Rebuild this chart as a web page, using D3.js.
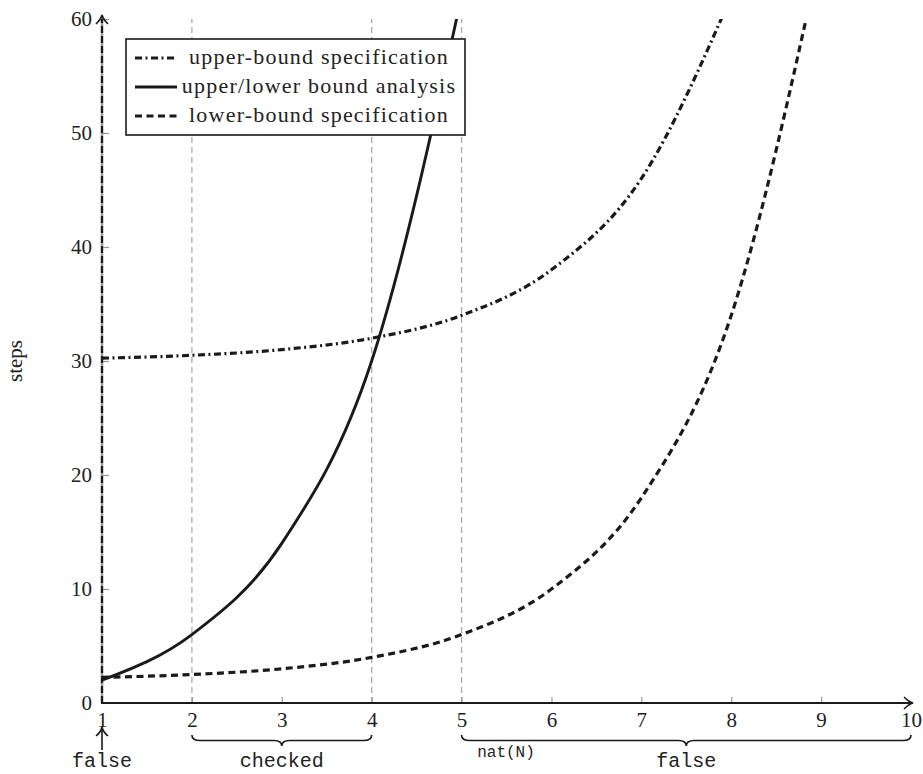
<!DOCTYPE html>
<html>
<head>
<meta charset="utf-8">
<script src="https://cdn.jsdelivr.net/npm/d3@7/dist/d3.min.js"></script>
<style>
  html, body { margin: 0; padding: 0; background: #fff; }
  svg { display: block; }
</style>
</head>
<body>
<svg id="chart" width="923" height="774"></svg>
<script>
// ---- data ----
const xTicks = [1, 2, 3, 4, 5, 6, 7, 8, 9, 10];
const yTicks = [0, 10, 20, 30, 40, 50, 60];
const upperSpecX = [1, 2, 3, 4, 5, 6, 7, 8];
const upperSpecY = [30.25, 30.5, 31, 32, 34, 38, 46, 62];
const analysisX = [1, 2, 3, 4, 5];
const analysisY = [2, 6, 14, 30, 62];
const lowerSpecX = [1, 2, 3, 4, 5, 6, 7, 8, 9];
const lowerSpecY = [2.25, 2.5, 3, 4, 6, 10, 18, 34, 66];
const gridX = [2, 4, 5];
const legendLabels = ["upper-bound specification", "upper/lower bound analysis", "lower-bound specification"];
const braces = [
  { from: 2, to: 4, label: "checked" },
  { from: 5, to: 10, label: "false" }
];

// ---- layout ----
const svg = d3.select("#chart");
const x = d3.scaleLinear().domain([1, 10]).range([102, 911]);
const y = d3.scaleLinear().domain([0, 60]).range([703, 19]);
const serif = "'Liberation Serif', 'Times New Roman', serif";
const mono = "'Liberation Mono', 'DejaVu Sans Mono', monospace";
const labelBase = 767;

svg.append("defs").append("clipPath").attr("id", "plotclip")
  .append("rect").attr("x", x(1) - 3).attr("y", y(60)).attr("width", x(10) - x(1) + 6).attr("height", y(0) - y(60));

// grid dashed verticals
svg.append("g").selectAll("line").data(gridX).join("line")
  .attr("x1", d => x(d)).attr("x2", d => x(d))
  .attr("y1", y(0)).attr("y2", y(60))
  .attr("stroke", "#aaa").attr("stroke-width", 1.3).attr("stroke-dasharray", "6,4");

// y axis line (gray)
svg.append("line").attr("x1", x(1)).attr("x2", x(1)).attr("y1", y(0)).attr("y2", y(60) - 3)
  .attr("stroke", "#999").attr("stroke-width", 2.5);

// ticks
const xAxis = d3.axisBottom(x).tickValues(xTicks).tickSize(0).tickPadding(9).tickFormat(d3.format("d"));
const gx = svg.append("g").attr("transform", `translate(0,${y(0)})`).call(xAxis);
gx.select(".domain").remove();
gx.selectAll(".tick text").attr("font-family", serif).attr("font-size", 21).attr("fill", "#222");
gx.selectAll(".tick").filter(d => d !== 1 && d !== 10).append("line")
  .attr("y1", 0).attr("y2", -6).attr("stroke", "#999").attr("stroke-width", 1.2);

const yAxis = d3.axisLeft(y).tickValues(yTicks).tickSize(0).tickPadding(10).tickFormat(d3.format("d"));
const gy = svg.append("g").attr("transform", `translate(${x(1)},0)`).call(yAxis);
gy.select(".domain").remove();
gy.selectAll(".tick text").attr("font-family", serif).attr("font-size", 21).attr("fill", "#222");
gy.selectAll(".tick").filter(d => d !== 0).append("line")
  .attr("x1", 0).attr("x2", 7).attr("stroke", "#999").attr("stroke-width", 1.2);

// series
const plot = svg.append("g").attr("clip-path", "url(#plotclip)");
const line = d3.line().x(d => x(d[0])).y(d => y(d[1])).curve(d3.curveMonotoneX);
const toPts = (xs, ys) => xs.map((v, i) => [v, ys[i]]);

// vertical dashed line at x = 1 ("false")
plot.append("path").datum([[1, 0], [1, 60]])
  .attr("d", d3.line().x(d => x(d[0])).y(d => y(d[1])))
  .attr("stroke", "#1a1a1a").attr("stroke-width", 2.2).attr("stroke-dasharray", "7,3").attr("fill", "none");

plot.append("path").datum(toPts(upperSpecX, upperSpecY)).attr("d", line)
  .attr("fill", "none").attr("stroke", "#1a1a1a").attr("stroke-width", 3.2).attr("stroke-dasharray", "7,3.5,2,3.5");
plot.append("path").datum(toPts(lowerSpecX, lowerSpecY)).attr("d", line)
  .attr("fill", "none").attr("stroke", "#1a1a1a").attr("stroke-width", 3.2).attr("stroke-dasharray", "7,4.5");
plot.append("path").datum(toPts(analysisX, analysisY)).attr("d", line)
  .attr("fill", "none").attr("stroke", "#1a1a1a").attr("stroke-width", 2.9);

// x axis line with arrow
svg.append("line").attr("x1", x(1) - 1).attr("x2", x(10) + 1).attr("y1", y(0)).attr("y2", y(0))
  .attr("stroke", "#1a1a1a").attr("stroke-width", 1.8);
svg.append("path")
  .attr("d", `M${x(10) - 7},${y(0) - 6} Q${x(10) - 2},${y(0) - 1} ${x(10) + 2},${y(0)} Q${x(10) - 2},${y(0) + 1} ${x(10) - 7},${y(0) + 6}`)
  .attr("fill", "none").attr("stroke", "#1a1a1a").attr("stroke-width", 1.6);
// y axis arrow head
const yt = y(60) - 2;
svg.append("path")
  .attr("d", `M${x(1) - 6},${yt + 7} Q${x(1) - 1},${yt + 2} ${x(1)},${yt - 2} Q${x(1) + 1},${yt + 2} ${x(1) + 6},${yt + 7}`)
  .attr("fill", "none").attr("stroke", "#1a1a1a").attr("stroke-width", 1.6);

// y label
svg.append("text").attr("transform", `translate(22,${y(30)}) rotate(-90)`)
  .attr("text-anchor", "middle").attr("font-family", serif).attr("font-size", 21).attr("fill", "#222").text("steps");

// legend
const lg = svg.append("g");
lg.append("rect").attr("x", 126).attr("y", 39).attr("width", 339).attr("height", 96)
  .attr("fill", "#fff").attr("stroke", "#1a1a1a").attr("stroke-width", 1.6);
const rowsY = [58, 87, 116];
const styles = ["7,3.5,2,3.5", null, "7,4.5"];
rowsY.forEach((ry, i) => {
  const l = lg.append("line").attr("x1", 135).attr("x2", 177).attr("y1", ry).attr("y2", ry)
    .attr("stroke", "#1a1a1a").attr("stroke-width", 3.2);
  if (styles[i]) l.attr("stroke-dasharray", styles[i]);
  lg.append("text").attr("x", 319).attr("y", ry + 6).attr("text-anchor", "middle")
    .attr("font-family", serif).attr("font-size", 22).attr("letter-spacing", "1.2px").attr("fill", "#222")
    .text(legendLabels[i]);
});

// braces below axis
const braceTop = 735, braceDepth = 11;
braces.forEach(b => {
  const x1 = x(b.from), x2 = x(b.to), m = (x1 + x2) / 2, h = braceDepth / 2;
  svg.append("path")
    .attr("d", `M${x1},${braceTop} Q${x1},${braceTop + h} ${x1 + 8},${braceTop + h} L${m - 8},${braceTop + h} Q${m},${braceTop + h} ${m},${braceTop + braceDepth} Q${m},${braceTop + h} ${m + 8},${braceTop + h} L${x2 - 8},${braceTop + h} Q${x2},${braceTop + h} ${x2},${braceTop}`)
    .attr("fill", "none").attr("stroke", "#1a1a1a").attr("stroke-width", 1.6);
  svg.append("text").attr("x", m).attr("y", labelBase).attr("text-anchor", "middle")
    .attr("font-family", mono).attr("font-size", 20).attr("fill", "#222").text(b.label);
});

// nat(N) label
svg.append("text").attr("x", 506).attr("y", 757).attr("text-anchor", "middle")
  .attr("font-family", mono).attr("font-size", 16).attr("fill", "#222").text("nat(N)");

// arrow at x = 1 and "false"
svg.append("line").attr("x1", x(1)).attr("x2", x(1)).attr("y1", 750).attr("y2", 729)
  .attr("stroke", "#1a1a1a").attr("stroke-width", 1.6);
svg.append("path").attr("d", `M${x(1) - 6},${736} Q${x(1) - 1},${732} ${x(1)},${727} Q${x(1) + 1},${732} ${x(1) + 6},${736}`)
  .attr("fill", "none").attr("stroke", "#1a1a1a").attr("stroke-width", 1.6);
svg.append("text").attr("x", x(1)).attr("y", labelBase).attr("text-anchor", "middle")
  .attr("font-family", mono).attr("font-size", 20).attr("fill", "#222").text("false");
</script>
</body>
</html>
